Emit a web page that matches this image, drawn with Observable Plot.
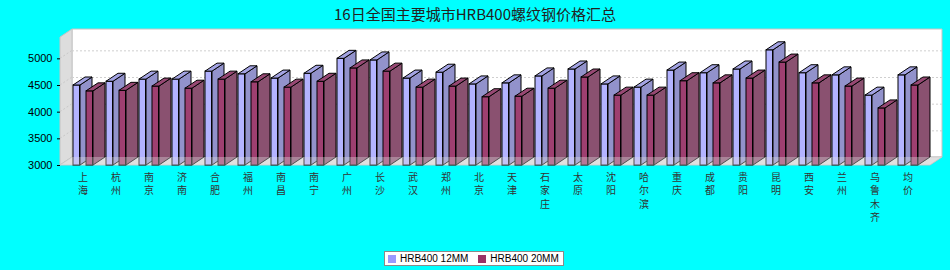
<!DOCTYPE html>
<html>
<head>
<meta charset="utf-8">
<script src="https://cdn.jsdelivr.net/npm/d3@7"></script>
<script src="https://cdn.jsdelivr.net/npm/@observablehq/plot@0.6"></script>
<style>
  html, body { margin: 0; padding: 0; background: #00ffff; }
  #wrap { position: relative; width: 950px; height: 270px; overflow: hidden; }
  #chart { position: absolute; left: 0; top: 0; }
  #title { position: absolute; left: 0; top: 3px; width: 950px; text-align: center;
           font: 15px "Noto Sans CJK SC", sans-serif; color: #222; }
  #legend { position: absolute; left: 384px; top: 251px; width: 180px; height: 15px;
            box-sizing: border-box; border: 1px solid #8a8a8a; background: #fff;
            font: 10px "Liberation Sans", Arial, sans-serif; color: #000;
            display: flex; align-items: center; padding-left: 3px; white-space: nowrap; }
  #legend .sw { display: inline-block; width: 8px; height: 8px; margin-right: 4px; }
  #legend .item { display: inline-flex; align-items: center; margin-right: 10px; }
</style>
</head>
<body>
<div id="wrap">
  <div id="chart"></div>
  <div id="title"></div>
  <div id="legend"></div>
</div>
<script>
// ---- data ----
const titleText = "16日全国主要城市HRB400螺纹钢价格汇总";
const cities = ["上海","杭州","南京","济南","合肥","福州","南昌","南宁","广州","长沙","武汉","郑州","北京",
                "天津","石家庄","太原","沈阳","哈尔滨","重庆","成都","贵阳","昆明","西安","兰州","乌鲁木齐","均价"];
const seriesNames = ["HRB400 12MM", "HRB400 20MM"];
const price12 = [4500,4570,4610,4610,4760,4710,4630,4720,5000,4970,4630,4740,4520,
                 4540,4670,4800,4520,4460,4780,4730,4800,5160,4730,4690,4310,4690];
const price20 = [4390,4400,4480,4440,4610,4560,4460,4570,4820,4760,4460,4480,4280,
                 4290,4440,4650,4310,4310,4580,4540,4630,4930,4540,4480,4070,4500];
const yTicks = [3000, 3500, 4000, 4500, 5000];
const yDomain = [3000, 5400];

// ---- layout / style ----
const W = 950, H = 270, mL = 60, mR = 20, mT = 37, mB = 105;
const DX = 12, DY = -8;            // 3D depth offset in px
const BAR_W = 7;
const bandW = (W - mL - mR) / cities.length;
const OFF = [7, 20];               // front-face offset inside band for each series
const legendColors = ["#9999ff", "#993366"];
const faces = [
  { front: "#b3b3ff", side: "#9292cb", top: "#a3a3e3" },
  { front: "#9e3f70", side: "#8a5170", top: "#974873" }
];

document.getElementById("title").textContent = titleText;

function walls(index, scales, values, dim) {
  const { y } = scales;
  const xl = dim.marginLeft, xr = dim.width - dim.marginRight;
  const yt = y(yDomain[1]), yb = y(yDomain[0]);
  const g = d3.create("svg:g");
  g.append("polygon")
    .attr("points", [[xl + DX, yt + DY], [xr + DX, yt + DY], [xr + DX, yb + DY], [xl + DX, yb + DY]].join(" "))
    .attr("fill", "#fff").attr("stroke", "#c4c4c4");
  g.append("polygon")
    .attr("points", [[xl, yt], [xl + DX, yt + DY], [xl + DX, yb + DY], [xl, yb]].join(" "))
    .attr("fill", "#dddddd").attr("stroke", "#c4c4c4");
  g.append("polygon")
    .attr("points", [[xl, yb], [xr, yb], [xr + DX, yb + DY], [xl + DX, yb + DY]].join(" "))
    .attr("fill", "#dddddd").attr("stroke", "#c4c4c4");
  yTicks.slice(1).forEach(v => {
    g.append("line").attr("x1", xl).attr("y1", y(v)).attr("x2", xl + DX).attr("y2", y(v) + DY)
      .attr("stroke", "#c8c8c8").attr("stroke-dasharray", "2,2");
  });
  return g.node();
}

function floorOverlay(index, scales, values, dim) {
  const { y } = scales;
  const xl = dim.marginLeft, xr = dim.width - dim.marginRight;
  const yb = y(yDomain[0]);
  return d3.create("svg:polygon")
    .attr("points", [[xl, yb], [xr, yb], [xr + DX, yb + DY], [xl + DX, yb + DY]].join(" "))
    .attr("fill", "#e6e6e6").attr("fill-opacity", 0.35).node();
}

function sideFaces(vals, s) {
  return (index, scales) => {
    const { x, y } = scales;
    const g = d3.create("svg:g").attr("stroke", "#000").attr("stroke-width", 1).attr("stroke-linejoin", "miter");
    cities.forEach((c, i) => {
      const xl = x(c) + OFF[s], xr = xl + BAR_W;
      const yt = y(vals[i]), yb = y(yDomain[0]);
      g.append("polygon")
        .attr("points", [[xr, yb], [xr, yt], [xr + DX, yt + DY], [xr + DX, yb + DY]].join(" "))
        .attr("fill", faces[s].side);
      g.append("polygon")
        .attr("points", [[xl, yt], [xr, yt], [xr + DX, yt + DY], [xl + DX, yt + DY]].join(" "))
        .attr("fill", faces[s].top);
    });
    return g.node();
  };
}

function fronts(vals, s) {
  return Plot.barY(cities, {
    x: d => d,
    y1: yDomain[0],
    y2: (d, i) => vals[i],
    insetLeft: OFF[s],
    insetRight: bandW - OFF[s] - BAR_W,
    fill: faces[s].front,
    stroke: "#000",
    strokeWidth: 1
  });
}

const chart = Plot.plot({
  width: W, height: H,
  marginLeft: mL, marginRight: mR, marginTop: mT, marginBottom: mB,
  style: { background: "transparent", fontFamily: "'Liberation Sans', Arial, sans-serif", overflow: "visible" },
  x: { type: "band", domain: cities, padding: 0, axis: null },
  y: { domain: yDomain, axis: null },
  marks: [
    walls,
    Plot.ruleY(yTicks.slice(1), { dx: DX, dy: DY, stroke: "#cfcfcf", strokeDasharray: "2,2" }),
    Plot.axisY(yTicks, { tickSize: 3, tickPadding: 5, fontSize: 11, color: "#000", label: null,
                         tickFormat: d => String(d) }),
    Plot.axisX({
      tickSize: 0, tickPadding: 6, fontSize: 10, lineHeight: 1.33,
      fontFamily: "'Noto Sans CJK SC', sans-serif", fill: "#333", label: null,
      tickFormat: d => Array.from(d).join("\n")
    }),
    fronts(price12, 0),
    sideFaces(price12, 0),
    fronts(price20, 1),
    sideFaces(price20, 1),
    floorOverlay
  ]
});
document.getElementById("chart").appendChild(chart);

// legend
const legend = document.getElementById("legend");
seriesNames.forEach((n, i) => {
  const item = document.createElement("span");
  item.className = "item";
  const sw = document.createElement("span");
  sw.className = "sw";
  sw.style.background = legendColors[i];
  item.appendChild(sw);
  item.appendChild(document.createTextNode(n));
  legend.appendChild(item);
});
</script>
</body>
</html>
